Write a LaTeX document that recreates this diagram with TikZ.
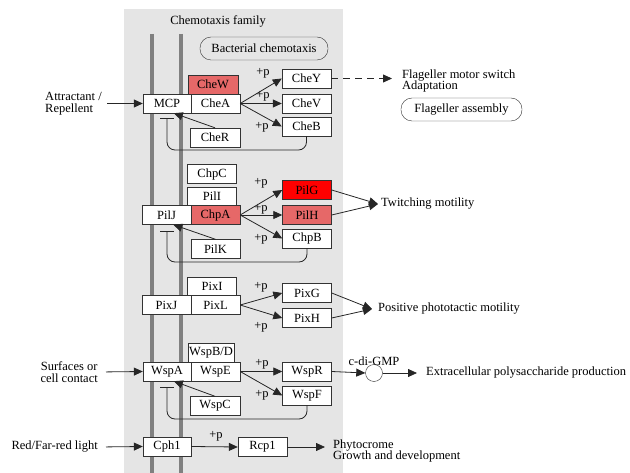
\documentclass[tikz,border=0pt]{standalone}
\usepackage{fontspec}
\setmainfont{Liberation Serif}
\usetikzlibrary{arrows.meta}

\definecolor{hitred}{RGB}{230,104,104}
\definecolor{topred}{RGB}{255,0,0}

\tikzset{
  gene/.style={draw=black!80, fill=white, minimum width=49pt, minimum height=19pt, inner sep=0pt},
  hit/.style={gene, fill=hitred},
  top/.style={gene, fill=topred},
  act/.style={draw=black!85, line width=0.8pt, -{Triangle[length=9pt,width=8pt]}},
  inhib/.style={draw=black!85, line width=0.8pt, rounded corners=8pt, -{Bar[width=14pt]}},
  pathway/.style={draw=black!80, rounded corners=11pt, minimum height=23pt, inner xsep=6pt},
  membrane/.style={draw=black!50, line width=4pt},
  lbl/.style={inner sep=1pt},
}

\begin{document}
\begin{tikzpicture}[x=1pt, y=-1pt, font=\rmfamily\fontsize{12.5}{11.5}\selectfont]
\useasboundingbox (0,0) rectangle (630,473);
\fill[black!10] (124,9) rectangle (343,473);
\draw[membrane] (152,34) -- (152,473);
\draw[membrane] (181,34) -- (181,473);

\node (family) at (218,21) {Chemotaxis family};
\node[pathway, minimum width=128pt] (bact) at (264,48.5) {Bacterial chemotaxis};

% chemotaxis
\node[gene, minimum width=48pt] (MCP) at (167,103.5) {MCP};
\node[gene] (CheA) at (215.5,103.5) {CheA};
\node[hit, minimum width=50pt] (CheW) at (213,84.5) {CheW};
\node[gene, minimum width=50pt] (CheR) at (215,137.5) {CheR};
\node[gene] (CheY) at (306.5,78.5) {CheY};
\node[gene] (CheV) at (306.5,103.5) {CheV};
\node[gene] (CheB) at (306.5,126.5) {CheB};
\node[lbl] (pCheY) at (263,73) {+p};
\node[lbl] (pCheV) at (263,96) {+p};
\node[lbl] (pCheB) at (262,127) {+p};
\node[lbl, align=left, anchor=east] (attr) at (103,103.5) {Attractant /\\Repellent};
\node[lbl, align=left, anchor=west] (motor) at (401,81) {Flageller motor switch\\Adaptation};
\node[pathway, minimum width=121pt] (flag) at (461.5,109.5) {Flageller assembly};
\coordinate (mcpin) at (167,118);
\coordinate (cheloop) at (167,150);

\draw[act, shorten <=4pt] (attr.east) -- (MCP.west);
\draw[act] (CheA.east) -- (CheY.west);
\draw[act] (CheA.east) -- (CheV.west);
\draw[act] (CheA.east) -- (CheB.west);
\draw[act] (CheR.north) -- (MCP.-55);
\draw[act, dashed, dash pattern=on 7pt off 5pt, shorten >=9pt] (CheY.east) -- (CheY.east -| motor.west);
\draw[inhib] (CheB.south) |- (cheloop) -- (mcpin);

% pili
\node[gene] (ChpC) at (212,174) {ChpC};
\node[gene] (PilI) at (212,196.5) {PilI};
\node[gene] (PilJ) at (166.5,215) {PilJ};
\node[hit] (ChpA) at (215.5,215) {ChpA};
\node[gene] (PilK) at (215.5,249) {PilK};
\node[top] (PilG) at (307,190) {PilG};
\node[hit] (PilH) at (307,215) {PilH};
\node[gene] (ChpB) at (307,238.5) {ChpB};
\node[lbl] (pPilG) at (261,183) {+p};
\node[lbl] (pPilH) at (261,209) {+p};
\node[lbl] (pChpB) at (261,239) {+p};
\node[lbl, anchor=west, inner xsep=3pt] (twitch) at (378,204) {Twitching motility};
\coordinate (pilin) at (167,231);
\coordinate (pilloop) at (167,262);

\draw[act] (ChpA.east) -- (PilG.west);
\draw[act] (ChpA.east) -- (PilH.west);
\draw[act] (ChpA.east) -- (ChpB.west);
\draw[act] (PilK.north) -- (PilJ.-55);
\draw[act] (PilG.east) -- (twitch.west);
\draw[act] (PilH.east) -- (twitch.west);
\draw[inhib] (ChpB.south) |- (pilloop) -- (pilin);

% phototaxis
\node[gene] (PixI) at (212,286.5) {PixI};
\node[gene] (PixJ) at (166.5,305) {PixJ};
\node[gene] (PixL) at (215.5,305) {PixL};
\node[gene] (PixG) at (307,293) {PixG};
\node[gene] (PixH) at (307,318) {PixH};
\node[lbl] (pPixG) at (261,287) {+p};
\node[lbl] (pPixH) at (261,327) {+p};
\node[lbl, anchor=west, inner xsep=6pt] (photo) at (372,309) {Positive phototactic motility};

\draw[act] (PixL.east) -- (PixG.west);
\draw[act] (PixL.east) -- (PixH.west);
\draw[act] (PixG.east) -- (photo.west);
\draw[act] (PixH.east) -- (photo.west);

% Wsp
\node[gene, minimum width=46pt] (WspBD) at (211,352.5) {WspB/D};
\node[gene, minimum width=48pt] (WspA) at (167,371.5) {WspA};
\node[gene] (WspE) at (215.5,371.5) {WspE};
\node[gene, minimum width=50pt] (WspC) at (215,406) {WspC};
\node[gene] (WspR) at (307,371.5) {WspR};
\node[gene] (WspF) at (307,395.5) {WspF};
\node[lbl] (pWspR) at (262,364) {+p};
\node[lbl] (pWspF) at (262,395) {+p};
\node[draw=black!80, fill=white, circle, minimum size=17pt, inner sep=0pt] (gmp) at (374,373) {};
\node[lbl] (gmplbl) at (374,361) {c-di-GMP};
\node[lbl, align=center, anchor=east] (surf) at (99,372) {Surfaces or\\cell contact};
\node[lbl, anchor=west, inner xsep=9pt] (eps) at (417,373) {Extracellular polysaccharide production};
\coordinate (wspin) at (167,387);
\coordinate (wsploop) at (167,419);

\draw[act, shorten <=7pt] (surf.east) -- (WspA.west);
\draw[act] (WspE.east) -- (WspR.west);
\draw[act] (WspE.east) -- (WspF.west);
\draw[act] (WspC.north) -- (WspA.-55);
\draw[act] (WspR.east) -- (gmp.west);
\draw[act] (gmp.east) -- (eps.west);
\draw[inhib] (WspF.south) |- (wsploop) -- (wspin);

% phytochrome
\node[gene, minimum width=48pt] (Cph1) at (167,446.5) {Cph1};
\node[gene] (Rcp1) at (262.5,447) {Rcp1};
\node[lbl] (pRcp1) at (216,436) {+p};
\node[lbl, anchor=east] (light) at (99,447) {Red/Far-red light};
\node[lbl, align=left, anchor=west, inner xsep=8pt] (phyto) at (325,451) {Phytocrome\\Growth and development};

\draw[act, shorten <=7pt] (light.east) -- (Cph1.west);
\draw[act] (Cph1.east) -- (Rcp1.west);
\draw[act] (Rcp1.east) -- (Rcp1.east -| phyto.west);
\end{tikzpicture}
\end{document}
